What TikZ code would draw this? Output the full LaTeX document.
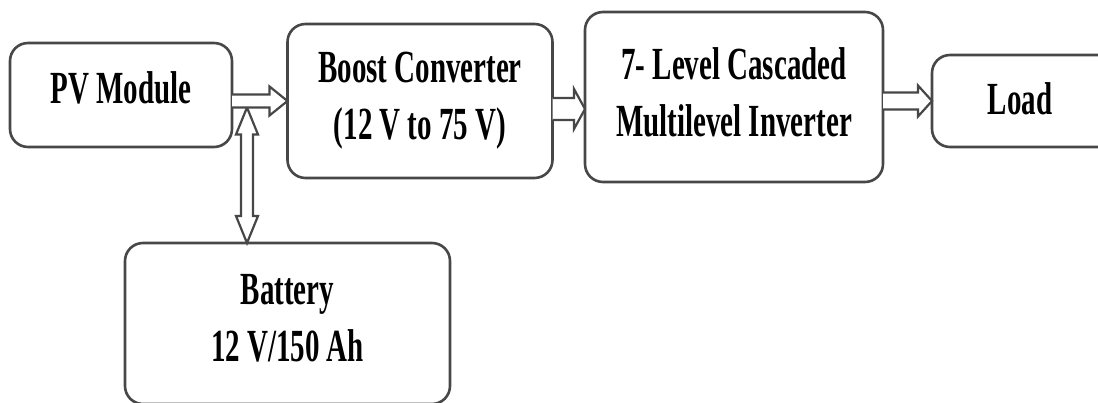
\documentclass[tikz,border=0pt]{standalone}
\usepackage{fontspec}
\setmainfont{Liberation Serif}[FakeStretch=0.63]
\usetikzlibrary{calc}
\tikzset{
  blockbox/.style={draw=black!72, line width=2.6pt, rounded corners=18pt, fill=white,
    inner sep=0pt, outer sep=0pt, align=center,
    font=\fontsize{46}{57}\selectfont\bfseries},
  blk/.style={draw=black!72, line width=2.2pt, fill=white, line join=miter}
}
\newcommand\hblk[5]{%
  \draw[blk] let \p1=#1, \p2=#2 in
    (\x1,\y1+#3) -- (\x2-#5,\y1+#3) -- (\x2-#5,\y1+#4) -- (\x2,\y1)
    -- (\x2-#5,\y1-#4) -- (\x2-#5,\y1-#3) -- (\x1,\y1-#3);}
\begin{document}
\begin{tikzpicture}[x=1pt,y=-1pt]
\useasboundingbox (0,0) rectangle (1098,403);
\node[blockbox, minimum width=222pt, minimum height=104pt, text depth=14pt] (pv) at (121,95) {PV Module};
\node[blockbox, minimum width=265pt, minimum height=154pt] (boost) at (420,101) {Boost Converter\\(12 V to 75 V)};
\node[blockbox, minimum width=298pt, minimum height=170pt, text depth=10pt] (inv) at (734,97) {7- Level Cascaded\\Multilevel Inverter};
\node[blockbox, minimum width=188pt, minimum height=92pt, text depth=4pt] (load) at (1026,101) {\hspace*{-12pt}Load};
\node[blockbox, minimum width=325pt, minimum height=161pt, text depth=11pt] (bat) at (287.5,323.5) {Battery\\12 V/150 Ah};
% vertical double arrow
\coordinate (vtop) at ($(pv.east |- boost.west)+(15,6.5)$);
\coordinate (vbot) at (vtop |- bat.north);
\draw[blk] let \p1=(vtop), \p2=(vbot) in
  (\x1,\y1) -- (\x1+11,\y1-27) -- (\x1+6,\y1-27) -- (\x1+6,\y2+27) -- (\x1+11,\y2+27)
  -- (\x1,\y2) -- (\x1-11,\y2+27) -- (\x1-6,\y2+27) -- (\x1-6,\y1-27) -- (\x1-11,\y1-27) -- cycle;
% horizontal arrows
\hblk{(pv.east |- boost.west)}{(boost.west)}{6.5}{14.5}{18}
\hblk{($(boost.east)+(0,8)$)}{($(boost.east -| inv.west)+(0,8)$)}{11}{20}{11}
\hblk{(inv.east |- load.west)}{(load.west)}{8.5}{15.5}{14}
\end{tikzpicture}
\end{document}
